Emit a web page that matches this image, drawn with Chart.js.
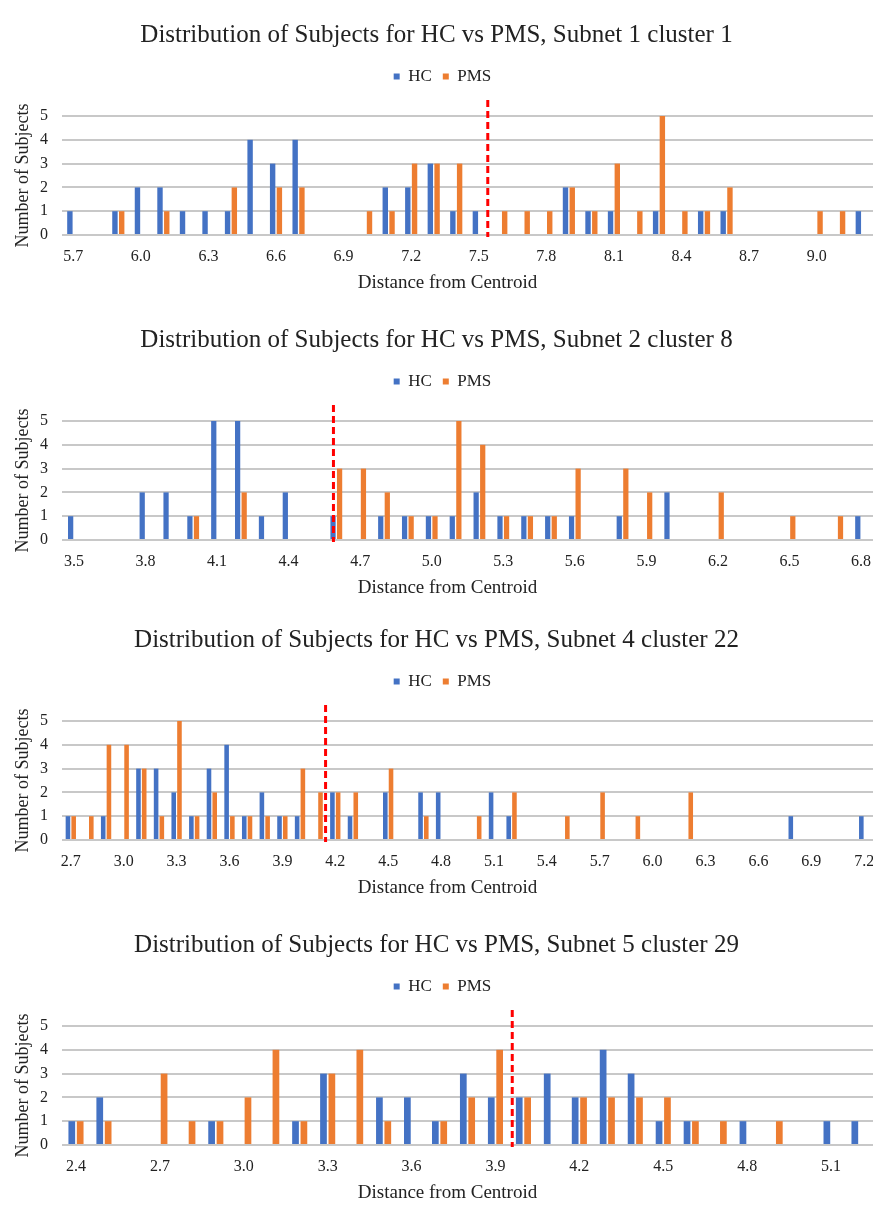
<!DOCTYPE html>
<html>
<head>
<meta charset="utf-8">
<script src="https://cdn.jsdelivr.net/npm/chart.js@4.4.1/dist/chart.umd.min.js"></script>
<style>
  html, body { margin: 0; padding: 0; background: #ffffff; overflow: hidden; }
  body { width: 873px; height: 1207px; position: relative; }
  .panel { position: absolute; left: 0; width: 873px; height: 300px; }
</style>
</head>
<body>
<div class="panel" style="top:0px"><canvas id="c1"></canvas></div>
<div class="panel" style="top:305px"><canvas id="c2"></canvas></div>
<div class="panel" style="top:605px"><canvas id="c3"></canvas></div>
<div class="panel" style="top:910px"><canvas id="c4"></canvas></div>
<script>
// ---------- Panel 1: Subnet 1 cluster 1 ----------
const cats1 = ['5.7','5.8','5.9','6.0','6.1','6.2','6.3','6.4','6.5','6.6','6.7','6.8','6.9','7.0','7.1','7.2','7.3','7.4','7.5','7.6','7.7','7.8','7.9','8.0','8.1','8.2','8.3','8.4','8.5','8.6','8.7','8.8','8.9','9.0','9.1','9.2'];
const hc1   = [1,0,1,2,2,1,1,1,4,3,4,0,0,0,2,2,3,1,1,0,0,0,2,1,1,0,1,0,1,1,0,0,0,0,0,1];
const pms1  = [0,0,1,0,1,0,0,2,0,2,2,0,0,1,1,3,3,3,0,1,1,1,2,1,3,1,5,1,1,2,0,0,0,1,1,0];
const ticks1 = ['5.7','6.0','6.3','6.6','6.9','7.2','7.5','7.8','8.1','8.4','8.7','9.0'];
const mean1 = 7.54;

// ---------- Panel 2: Subnet 2 cluster 8 ----------
const cats2 = ['3.5','3.6','3.7','3.8','3.9','4.0','4.1','4.2','4.3','4.4','4.5','4.6','4.7','4.8','4.9','5.0','5.1','5.2','5.3','5.4','5.5','5.6','5.7','5.8','5.9','6.0','6.1','6.2','6.3','6.4','6.5','6.6','6.7','6.8'];
const hc2   = [1,0,0,2,2,1,5,5,1,2,0,1,0,1,1,1,1,2,1,1,1,1,0,1,0,2,0,0,0,0,0,0,0,1];
const pms2  = [0,0,0,0,0,1,0,2,0,0,0,3,3,2,1,1,5,4,1,1,1,3,0,3,2,0,0,2,0,0,1,0,1,0];
const ticks2 = ['3.5','3.8','4.1','4.4','4.7','5.0','5.3','5.6','5.9','6.2','6.5','6.8'];
const mean2 = 4.588;

// ---------- Panel 3: Subnet 4 cluster 22 ----------
const cats3 = ['2.7','2.8','2.9','3.0','3.1','3.2','3.3','3.4','3.5','3.6','3.7','3.8','3.9','4.0','4.1','4.2','4.3','4.4','4.5','4.6','4.7','4.8','4.9','5.0','5.1','5.2','5.3','5.4','5.5','5.6','5.7','5.8','5.9','6.0','6.1','6.2','6.3','6.4','6.5','6.6','6.7','6.8','6.9','7.0','7.1','7.2'];
const hc3   = [1,0,1,0,3,3,2,1,3,4,1,2,1,1,0,2,1,0,2,0,2,2,0,0,2,1,0,0,0,0,0,0,0,0,0,0,0,0,0,0,0,1,0,0,0,1];
const pms3  = [1,1,4,4,3,1,5,1,2,1,1,1,1,3,2,2,2,0,3,0,1,0,0,1,0,2,0,0,1,0,2,0,1,0,0,2,0,0,0,0,0,0,0,0,0,0];
const ticks3 = ['2.7','3.0','3.3','3.6','3.9','4.2','4.5','4.8','5.1','5.4','5.7','6.0','6.3','6.6','6.9','7.2'];
const mean3 = 4.145;

// ---------- Panel 4: Subnet 5 cluster 29 ----------
const cats4 = ['2.4','2.5','2.6','2.7','2.8','2.9','3.0','3.1','3.2','3.3','3.4','3.5','3.6','3.7','3.8','3.9','4.0','4.1','4.2','4.3','4.4','4.5','4.6','4.7','4.8','4.9','5.0','5.1','5.2'];
const hc4   = [1,2,0,0,0,1,0,0,1,3,0,2,2,1,3,2,2,3,2,4,3,1,1,0,1,0,0,1,1];
const pms4  = [1,1,0,3,1,1,2,4,1,3,4,1,0,1,2,4,2,0,2,2,2,2,1,1,0,1,0,0,0];
const ticks4 = ['2.4','2.7','3.0','3.3','3.6','3.9','4.2','4.5','4.8','5.1'];
const mean4 = 3.96;

const titles = [
  'Distribution of Subjects for HC vs PMS, Subnet 1 cluster 1',
  'Distribution of Subjects for HC vs PMS, Subnet 2 cluster 8',
  'Distribution of Subjects for HC vs PMS, Subnet 4 cluster 22',
  'Distribution of Subjects for HC vs PMS, Subnet 5 cluster 29'
];
const seriesNames = ['HC', 'PMS'];
const yTicks = [0, 1, 2, 3, 4, 5];

const FONT = '"Liberation Serif", "Times New Roman", serif';
const TXT = '#222222';
const BLUE = '#4472C4';
const ORANGE = '#ED7D31';

const legendSpacer = {
  id: 'legendSpacer',
  beforeInit(chart) {
    const lg = chart.legend;
    if (!lg) return;
    const orig = lg.fit;
    lg.fit = function () { orig.call(this); this.height += 21; };
  },
  afterLayout(chart) {
    // nudge legend slightly right, x-axis title slightly left (as in the original layout)
    const lg = chart.legend;
    if (lg) { lg.left += 6; lg.right += 6; }
    const xs = chart.scales.x;
    if (xs && !xs._titleShifted) {
      const orig = xs.drawTitle;
      xs.drawTitle = function () {
        this.ctx.save();
        this.ctx.translate(-20, 0);
        orig.call(this);
        this.ctx.restore();
      };
      xs._titleShifted = true;
    }
  }
};

const meanLine = {
  id: 'meanLine',
  afterDatasetsDraw(chart, args, opts) {
    const xs = chart.scales.x;
    const cats = chart.data.labels;
    const idx = (opts.value - parseFloat(cats[0])) / 0.1;
    const x = xs.getPixelForValue(idx);
    const ctx = chart.ctx;
    const a = chart.chartArea;
    ctx.save();
    ctx.strokeStyle = '#FF0000';
    ctx.lineWidth = 3;
    ctx.setLineDash([7, 4]);
    ctx.beginPath();
    ctx.moveTo(x, a.top - 16);
    ctx.lineTo(x, a.bottom + 2);
    ctx.stroke();
    ctx.restore();
  }
};

function makeChart(id, cats, hc, pms, ticks, mean, title, catPct) {
  new Chart(document.getElementById(id), {
    type: 'bar',
    data: {
      labels: cats,
      datasets: [
        { label: seriesNames[0], data: hc, backgroundColor: BLUE, borderWidth: 0,
          categoryPercentage: catPct, barPercentage: 0.8 },
        { label: seriesNames[1], data: pms, backgroundColor: ORANGE, borderWidth: 0,
          categoryPercentage: catPct, barPercentage: 0.8 }
      ]
    },
    options: {
      responsive: true,
      maintainAspectRatio: false,
      animation: false,
      layout: { padding: { left: 0, right: 0, top: 0, bottom: 0 } },
      plugins: {
        tooltip: { enabled: false },
        title: {
          display: true, text: title, color: TXT,
          font: { family: FONT, size: 25, weight: 'normal' },
          padding: { top: 20, bottom: 7 }
        },
        legend: {
          display: true, position: 'top',
          labels: {
            color: TXT, boxWidth: 6, boxHeight: 6, padding: 11,
            font: { family: FONT, size: 17, weight: 'normal' }
          }
        },
        meanLine: { value: mean }
      },
      scales: {
        x: {
          grid: { display: false, drawTicks: false },
          border: { display: false },
          ticks: {
            autoSkip: false, maxRotation: 0, minRotation: 0, padding: 12,
            color: TXT, font: { family: FONT, size: 16 },
            callback: function (v, i) { return ticks.includes(cats[i]) ? cats[i] : ''; }
          },
          title: {
            display: true, text: 'Distance from Centroid', color: TXT,
            font: { family: FONT, size: 19, weight: 'normal' },
            padding: { top: 4, bottom: 5.6 }
          },
          afterFit: function (s) { s.paddingLeft = 0; s.paddingRight = 0; s.height = 65; }
        },
        y: {
          min: 0, max: 5,
          grid: { color: '#c8c8c8', lineWidth: 2, drawTicks: false },
          border: { display: false },
          afterBuildTicks: function (s) { s.ticks = yTicks.map(v => ({ value: v })); },
          ticks: {
            autoSkip: false, stepSize: 1, padding: 14, color: TXT,
            font: { family: FONT, size: 16 }
          },
          title: {
            display: true, text: 'Number of Subjects', color: TXT,
            font: { family: FONT, size: 18, weight: 'normal' },
            padding: { top: 12, bottom: 0 }
          },
          afterFit: function (s) { s.width = 62; }
        }
      }
    },
    plugins: [legendSpacer, meanLine]
  });
}

makeChart('c1', cats1, hc1, pms1, ticks1, mean1, titles[0], 0.6);
makeChart('c2', cats2, hc2, pms2, ticks2, mean2, titles[1], 0.55);
makeChart('c3', cats3, hc3, pms3, ticks3, mean3, titles[2], 0.65);
makeChart('c4', cats4, hc4, pms4, ticks4, mean4, titles[3], 0.6);
</script>
</body>
</html>
